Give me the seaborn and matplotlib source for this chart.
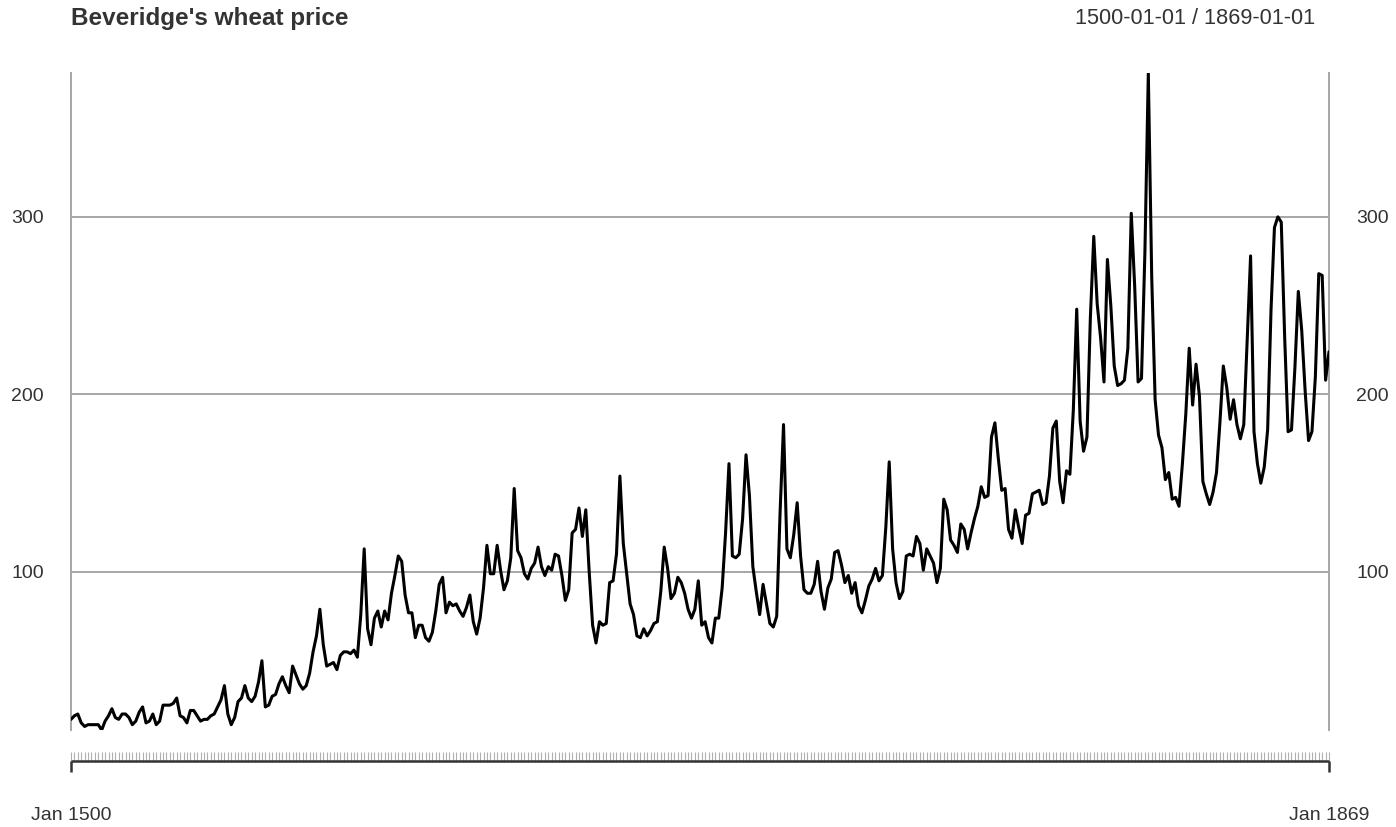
import numpy as np
import pandas as pd
import matplotlib
matplotlib.use("Agg")
import matplotlib.pyplot as plt
import seaborn as sns

start_year = 1500
end_year = 1869
prices = [
    17, 19, 20, 15, 13, 14, 14, 14, 14, 11,
    16, 19, 23, 18, 17, 20, 20, 18, 14, 16,
    21, 24, 15, 16, 20, 14, 16, 25, 25, 25,
    26, 29, 19, 18, 15, 22, 22, 19, 16, 17,
    17, 19, 20, 24, 28, 36, 20, 14, 18, 27,
    29, 36, 29, 27, 30, 38, 50, 24, 25, 30,
    31, 37, 41, 36, 32, 47, 42, 37, 34, 36,
    43, 55, 64, 79, 59, 47, 48, 49, 45, 53,
    55, 55, 54, 56, 52, 76, 113, 68, 59, 74,
    78, 69, 78, 73, 88, 98, 109, 106, 87, 77,
    77, 63, 70, 70, 63, 61, 66, 78, 93, 97,
    77, 83, 81, 82, 78, 75, 80, 87, 72, 65,
    74, 91, 115, 99, 99, 115, 101, 90, 95, 108,
    147, 112, 108, 99, 96, 102, 105, 114, 103, 98,
    103, 101, 110, 109, 98, 84, 90, 122, 124, 136,
    120, 135, 100, 70, 60, 72, 70, 71, 94, 95,
    110, 154, 116, 99, 82, 76, 64, 63, 68, 64,
    67, 71, 72, 89, 114, 102, 85, 88, 97, 94,
    88, 79, 74, 79, 95, 70, 72, 63, 60, 74,
    74, 91, 122, 161, 109, 108, 110, 130, 166, 143,
    103, 89, 76, 93, 82, 71, 69, 75, 134, 183,
    113, 108, 121, 139, 109, 90, 88, 88, 93, 106,
    89, 79, 91, 96, 111, 112, 104, 94, 98, 88,
    94, 81, 77, 84, 92, 96, 102, 95, 98, 125,
    162, 113, 94, 85, 89, 109, 110, 109, 120, 116,
    101, 113, 109, 105, 94, 102, 141, 135, 118, 115,
    111, 127, 124, 113, 122, 130, 137, 148, 142, 143,
    176, 184, 164, 146, 147, 124, 119, 135, 125, 116,
    132, 133, 144, 145, 146, 138, 139, 154, 181, 185,
    151, 139, 157, 155, 191, 248, 185, 168, 176, 243,
    289, 251, 232, 207, 276, 250, 216, 205, 206, 208,
    226, 302, 261, 207, 209, 280, 381, 266, 197, 177,
    170, 152, 156, 141, 142, 137, 161, 189, 226, 194,
    217, 199, 151, 144, 138, 145, 156, 184, 216, 204,
    186, 197, 183, 175, 183, 230, 278, 179, 161, 150,
    159, 180, 248, 294, 300, 297, 232, 179, 180, 215,
    258, 236, 202, 174, 179, 210, 268, 267, 208, 224,
]
years = list(range(start_year, start_year + len(prices)))
y_ticks = [100, 200, 300]
x_tick_labels = ["Jan 1500", "Jan 1869"]
title = "Beveridge's wheat price"
range_label = "1500-01-01 / 1869-01-01"

df = pd.DataFrame({"year": years, "price": prices})

sns.set_style("white")
plt.rcParams["font.family"] = ["Liberation Sans", "DejaVu Sans"]

W, H = 1396, 827
fig = plt.figure(figsize=(W / 100, H / 100), dpi=100)

def px_axes(x0, y0, x1, y1):
    return fig.add_axes([x0 / W, 1 - y1 / H, (x1 - x0) / W, (y1 - y0) / H])

ax = px_axes(71, 73, 1329, 730)
for y in y_ticks:
    ax.axhline(y, color="#a6a6a6", lw=1.4, zorder=1)
sns.lineplot(data=df, x="year", y="price", ax=ax, color="black", lw=2.2, zorder=3)
ax.set_xlim(start_year, end_year)
ax.set_ylim(min(prices), max(prices))
for s in ["top", "bottom"]:
    ax.spines[s].set_visible(False)
for s in ["left", "right"]:
    ax.spines[s].set_color("#a6a6a6")
    ax.spines[s].set_linewidth(1.4)
ax.set_xticks([])
ax.set_yticks(y_ticks)
ax.set_yticklabels([str(v) for v in y_ticks], fontsize=14, color="#333333")
ax.tick_params(axis="y", length=0, pad=19.5, labelright=True, labelleft=True, right=False, left=False)
ax.set_xlabel("")
ax.set_ylabel("")

# bottom time axis
ax2 = px_axes(0, 740, W, 790)
ax2.set_xlim(start_year - 71 * (end_year - start_year) / (1329 - 71),
             end_year + (W - 1329) * (end_year - start_year) / (1329 - 71))
ax2.set_ylim(790, 740)
ax2.axis("off")
ax2.vlines(years, 752, 761, color="#b0b0b0", lw=0.8)
ax2.hlines(761, start_year, end_year, color="#333333", lw=1.8)
ax2.vlines([start_year, end_year], 761, 772, color="#333333", lw=1.8)

fig.text(71 / W, 1 - 815 / H, x_tick_labels[0], ha="center", va="center", fontsize=14, color="#333333")
fig.text(1329 / W, 1 - 815 / H, x_tick_labels[1], ha="center", va="center", fontsize=14, color="#333333")
fig.text(71 / W, 1 - 19 / H, title, ha="left", va="center", fontsize=17.5, fontweight="bold", color="#333333")
fig.text(1315 / W, 1 - 19 / H, range_label, ha="right", va="center", fontsize=15.7, color="#333333")

fig.savefig("out.png", dpi=100)
